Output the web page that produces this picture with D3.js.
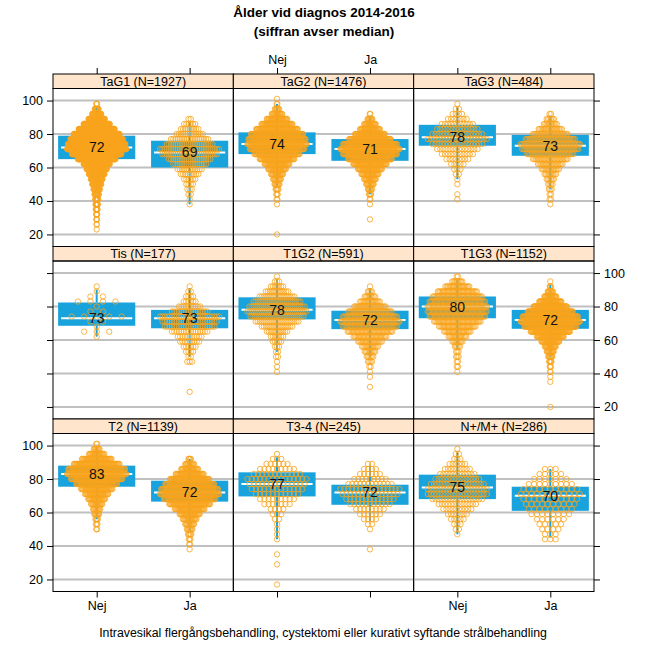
<!DOCTYPE html>
<html>
<head>
<meta charset="utf-8">
<script src="https://cdn.jsdelivr.net/npm/d3@7/dist/d3.min.js"></script>
<style>
  html, body { margin: 0; padding: 0; background: #ffffff; }
  svg { display: block; font-family: "Liberation Sans", Arial, sans-serif; }
</style>
</head>
<body>
<svg id="chart" width="648" height="648"></svg>
<script>
// ---------------- DATA ----------------
const panels = ["TaG1 (N=1927)", "TaG2 (N=1476)", "TaG3 (N=484)",
                "Tis (N=177)", "T1G2 (N=591)", "T1G3 (N=1152)",
                "T2 (N=1139)", "T3-4 (N=245)", "N+/M+ (N=286)"];
const groups = ["Nej", "Ja"];
const yTicks = [20, 40, 60, 80, 100];
// age bins (3-year bins, centre value)
const ageBins = [17, 20, 23, 26, 29, 32, 35, 38, 41, 44, 47, 50, 53, 56, 59,
                 62, 65, 68, 71, 74, 77, 80, 83, 86, 89, 92, 95, 98, 101];

// box statistics per panel
const medianNej = [72, 74, 78, 73, 78, 80, 83, 77, 75];
const medianJa  = [69, 71, 73, 73, 72, 72, 72, 72, 70];
const q1Nej = [65, 68, 73, 68.5, 72.3, 73, 75.4, 69.6, 68];
const q3Nej = [79, 81, 85.5, 82.4, 85.5, 86, 88, 84, 82.6];
const q1Ja  = [60, 64, 67, 67, 66.5, 66.7, 66.5, 64.6, 61];
const q3Ja  = [76, 77, 79.5, 78, 77.5, 78, 79, 76.6, 75.4];
const whiskLoNej = [44, 49, 53, 62, 53, 54, 56, 44, 47];
const whiskHiNej = [96, 98, 96, 90, 96, 96, 99, 93, 96];
const whiskLoJa  = [38, 44, 47, 50, 50, 50, 48, 55, 45];
const whiskHiJa  = [87, 91, 91, 91, 91, 93, 92, 88, 86];

// counts of patients per age bin
const countsNej = [
  [0,0,1,2,3,4,6,8,10,14,20,28,36,48,62,80,115,150,180,175,160,140,110,80,50,28,12,3,0],
  [0,1,0,0,0,0,0,1,2,3,5,8,12,18,26,36,50,65,78,85,82,75,60,45,30,16,7,2,1],
  [0,0,0,0,0,0,0,0,1,1,0,1,1,2,3,5,8,11,14,17,20,17,14,11,7,4,2,1,0],
  [0,0,0,0,0,0,0,0,0,0,0,0,0,0,0,1,3,1,2,5,2,1,4,2,1,1,0,0,0],
  [0,0,0,0,0,0,0,0,1,1,1,2,2,3,5,7,11,16,22,27,30,28,24,18,12,7,3,1,0],
  [0,0,0,0,0,0,0,0,1,2,2,3,3,5,9,15,22,30,38,45,48,48,45,40,32,20,9,2,0],
  [0,0,0,0,0,0,0,0,0,0,0,2,3,4,7,10,15,22,30,40,52,65,75,72,58,38,20,8,2],
  [1,0,0,0,1,0,1,0,0,1,1,1,1,2,3,4,7,9,11,13,14,15,12,9,6,3,1,0,0],
  [0,0,0,0,0,0,0,0,0,0,1,2,3,5,7,10,13,17,20,20,18,15,12,9,6,3,2,1,0]
];
const countsJa = [
  [0,0,0,0,0,0,0,1,1,2,3,4,6,9,12,16,20,26,28,22,18,13,9,6,2,0,0,0,0],
  [0,0,0,0,1,0,0,1,2,4,7,12,18,26,36,50,65,80,88,80,62,45,30,18,8,2,0,0,0],
  [0,0,0,0,0,0,0,1,2,2,3,4,6,9,13,18,25,33,40,42,35,25,17,10,6,2,0,0,0],
  [0,0,0,0,1,0,0,0,0,0,3,2,4,6,9,11,16,22,24,26,16,10,6,4,2,1,0,0,0],
  [0,0,0,0,0,1,0,1,1,2,4,6,9,13,19,26,35,42,46,42,34,25,16,9,4,1,0,0,0],
  [0,1,0,0,0,0,1,1,2,3,5,8,13,20,32,48,70,92,105,98,80,60,40,22,10,3,1,0,0],
  [0,0,0,0,0,0,0,1,2,3,5,8,12,18,26,38,52,65,75,72,62,50,36,22,12,4,0,0,0],
  [0,0,0,0,0,0,0,1,0,0,0,1,2,4,6,8,11,13,15,16,12,9,6,4,2,0,0,0,0],
  [0,0,0,0,0,0,0,0,0,3,3,4,5,6,8,9,10,11,12,11,9,7,5,3,0,0,0,0,0]
];

// ---------------- STYLE / LAYOUT ----------------
const BLUE = "#19a3dd";
const ORANGE = "#f9a41b";
const STRIP = "#ffe5cc";
const GRID = "#c0c0c0";
const colLeft = 53, colW = 180.33;
const rowTop0 = 74, rowStep = 172.5, stripH = 14.5;

const svg = d3.select("#chart");

svg.append("text").attr("x", 324).attr("y", 17).attr("text-anchor", "middle")
  .attr("font-weight", "bold").attr("font-size", 13.5).text("Ålder vid diagnos 2014-2016");
svg.append("text").attr("x", 324).attr("y", 36).attr("text-anchor", "middle")
  .attr("font-weight", "bold").attr("font-size", 13.5).text("(siffran avser median)");
svg.append("text").attr("x", 323).attr("y", 637).attr("text-anchor", "middle")
  .attr("font-size", 12.3).text("Intravesikal flergångsbehandling, cystektomi eller kurativt syftande strålbehandling");

function styleAxis(g) {
  g.select(".domain").remove();
  g.selectAll(".tick line").attr("stroke", "#000");
  g.selectAll(".tick text").attr("fill", "#000").attr("font-size", 12.5)
    .attr("font-family", "Liberation Sans, Arial, sans-serif");
}

panels.forEach((title, p) => {
  const row = Math.floor(p / 3), col = p % 3;
  const x0 = colLeft + col * colW, x1 = x0 + colW;
  const sTop = rowTop0 + row * rowStep;
  const pTop = sTop + stripH, pBot = sTop + rowStep;

  const y = d3.scaleLinear().domain([12.8, 107.2]).range([pBot, pTop]);
  const x = d3.scalePoint().domain(groups).range([x0, x1]).padding(0.47);
  const step = x.step();
  const boxW = step * 0.83;

  const g = svg.append("g");

  // grid lines
  g.selectAll(".grid").data(yTicks).enter().append("line")
    .attr("x1", x0).attr("x2", x1)
    .attr("y1", d => y(d)).attr("y2", d => y(d))
    .attr("stroke", GRID).attr("stroke-width", 2);

  const stats = [
    {grp: "Nej", q1: q1Nej[p], med: medianNej[p], q3: q3Nej[p], lo: whiskLoNej[p], hi: whiskHiNej[p], counts: countsNej[p]},
    {grp: "Ja",  q1: q1Ja[p],  med: medianJa[p],  q3: q3Ja[p],  lo: whiskLoJa[p],  hi: whiskHiJa[p],  counts: countsJa[p]}
  ];

  stats.forEach(s => {
    const cx = x(s.grp);
    g.append("line").attr("x1", cx).attr("x2", cx).attr("y1", y(s.lo)).attr("y2", y(s.q1))
      .attr("stroke", BLUE).attr("stroke-width", 2);
    g.append("line").attr("x1", cx).attr("x2", cx).attr("y1", y(s.q3)).attr("y2", y(s.hi))
      .attr("stroke", BLUE).attr("stroke-width", 2);
    g.append("rect").attr("x", cx - boxW / 2).attr("width", boxW)
      .attr("y", y(s.q3)).attr("height", y(s.q1) - y(s.q3)).attr("fill", BLUE);
    g.append("line").attr("x1", cx - boxW / 2 + 3).attr("x2", cx + boxW / 2 - 3)
      .attr("y1", y(s.med)).attr("y2", y(s.med)).attr("stroke", "#fff").attr("stroke-width", 2);
  });

  stats.forEach(s => {
    const cx = x(s.grp);
    const cmax = d3.max(s.counts);
    const dx = cmax > 1 ? Math.min(12.5, 59 / (cmax - 1)) : 0;
    const pts = [];
    s.counts.forEach((c, i) => {
      for (let k = 0; k < c; k++) pts.push({age: ageBins[i], off: (k - (c - 1) / 2) * dx});
    });
    g.append("g").selectAll("circle").data(pts).enter().append("circle")
      .attr("cx", d => cx + d.off).attr("cy", d => y(d.age)).attr("r", 2.7)
      .attr("fill", "none").attr("stroke", ORANGE).attr("stroke-opacity", 0.8).attr("stroke-width", 1);
  });

  stats.forEach(s => {
    g.append("text").attr("x", x(s.grp)).attr("y", y(s.med)).attr("dy", "0.36em")
      .attr("text-anchor", "middle").attr("font-size", 14).attr("fill", "#111").text(s.med);
  });

  g.append("rect").attr("x", x0).attr("y", sTop).attr("width", colW).attr("height", stripH)
    .attr("fill", STRIP).attr("stroke", "#000").attr("stroke-width", 1);
  g.append("text").attr("x", (x0 + x1) / 2).attr("y", sTop + stripH / 2).attr("dy", "0.36em")
    .attr("text-anchor", "middle").attr("font-size", 12.5).text(title);
  g.append("rect").attr("x", x0).attr("y", pTop).attr("width", colW).attr("height", pBot - pTop)
    .attr("fill", "none").attr("stroke", "#000").attr("stroke-width", 1);

  if (col === 0) {
    const ax = d3.axisLeft(y).tickValues(yTicks).tickSize(6).tickPadding(4);
    if (row === 1) ax.tickFormat("");
    svg.append("g").attr("transform", `translate(${x0},0)`).call(ax).call(styleAxis);
  }
  if (col === 2) {
    const ax = d3.axisRight(y).tickValues(yTicks).tickSize(6).tickPadding(4);
    if (row !== 1) ax.tickFormat("");
    svg.append("g").attr("transform", `translate(${x1},0)`).call(ax).call(styleAxis);
  }
  if (row === 0) {
    const ax = d3.axisTop(x).tickSize(6).tickPadding(4);
    if (col !== 1) ax.tickFormat("");
    svg.append("g").attr("transform", `translate(0,${sTop})`).call(ax).call(styleAxis);
  }
  if (row === 2) {
    const ax = d3.axisBottom(x).tickSize(6).tickPadding(4);
    if (col === 1) ax.tickFormat("");
    svg.append("g").attr("transform", `translate(0,${pBot})`).call(ax).call(styleAxis);
  }
});
</script>
</body>
</html>
